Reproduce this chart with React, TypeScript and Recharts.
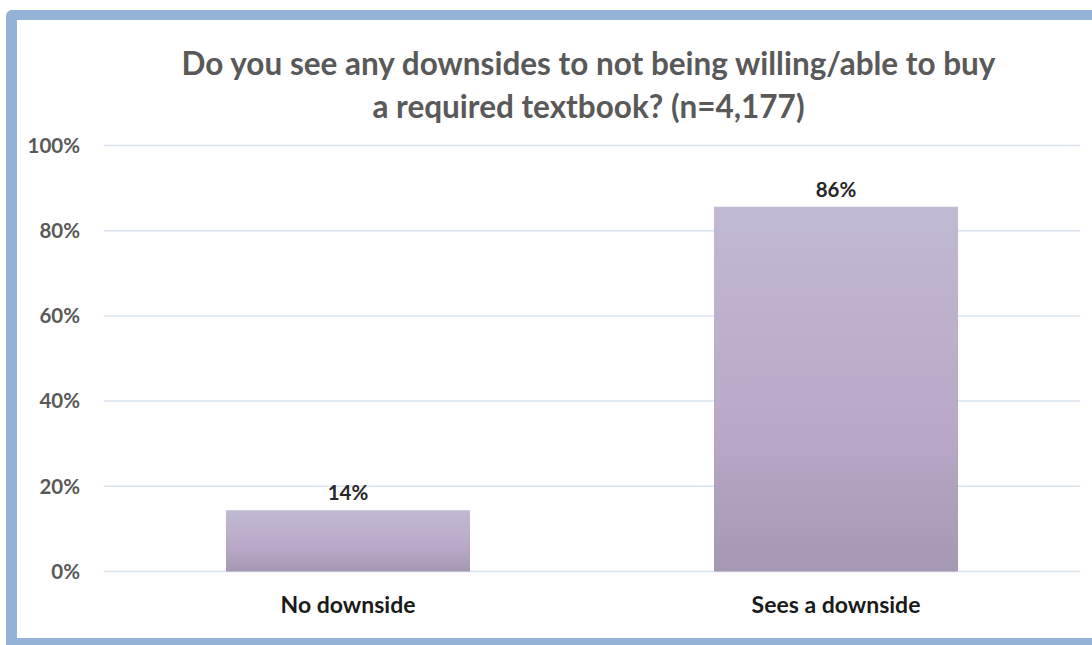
import { BarChart, Bar, XAxis, YAxis, CartesianGrid, LabelList } from "recharts";

const categories = ["No downside", "Sees a downside"];
const shares = [14.4, 85.6];
const shareLabels = ["14%", "86%"];
const yTicks = [0, 20, 40, 60, 80, 100];

const TITLE_LINES = [
  "Do you see any downsides to not being willing/able to buy",
  "a required textbook? (n=4,177)",
];

const FONT = "Lato, 'Open Sans', sans-serif";
const FRAME = "#95b3d7";

const data = categories.map((name, i) => ({
  name,
  value: shares[i],
  label: shareLabels[i],
}));

export default function App() {
  return (
    <div
      style={{
        position: "absolute",
        left: 0,
        top: 0,
        width: 1092,
        height: 645,
        overflow: "hidden",
        background: "#fff",
        fontFamily: FONT,
      }}
    >
      {/* frame: left, top and bottom bars, open on the right */}
      <div
        style={{
          position: "absolute",
          left: 6,
          top: 10,
          width: 11,
          height: 635,
          background: FRAME,
          borderTopLeftRadius: 6,
        }}
      />
      <div style={{ position: "absolute", left: 10, top: 10, width: 1082, height: 10, background: FRAME }} />
      <div style={{ position: "absolute", left: 6, top: 638, width: 1086, height: 7, background: FRAME }} />
      <div
        style={{
          position: "absolute",
          left: 0,
          top: 42,
          width: 1177,
          textAlign: "center",
          color: "#595959",
          fontWeight: 700,
          fontSize: 31.5,
          lineHeight: "43px",
        }}
      >
        {TITLE_LINES.map((t) => (
          <div key={t}>{t}</div>
        ))}
      </div>
      <div style={{ position: "absolute", left: 0, top: 0 }}>
        <BarChart
          width={1092}
          height={645}
          data={data}
          margin={{ top: 145.5, right: 12, bottom: 0, left: 0 }}
          barCategoryGap="25%"
        >
          <defs>
            <linearGradient id="barFill" x1="0" y1="0" x2="0" y2="1">
              <stop offset="0%" stopColor="#c1b9d3" />
              <stop offset="60%" stopColor="#baa8c8" />
              <stop offset="100%" stopColor="#a598b4" />
            </linearGradient>
          </defs>
          <CartesianGrid vertical={false} stroke="#d9e4f1" strokeWidth={1.5} />
          <YAxis
            width={104}
            domain={[0, 100]}
            ticks={yTicks}
            tickFormatter={(v: number) => `${v}%`}
            axisLine={false}
            tickLine={false}
            tickMargin={18}
            tick={{ fill: "#595959", fontSize: 20.5, fontWeight: 700, fontFamily: FONT }}
          />
          <XAxis
            dataKey="name"
            height={73.5}
            axisLine={false}
            tickLine={false}
            tickMargin={19}
            tick={{ fill: "#1a1a1a", fontSize: 23, fontWeight: 700, fontFamily: FONT }}
          />
          <Bar dataKey="value" fill="url(#barFill)" isAnimationActive={false}>
            <LabelList
              dataKey="label"
              position="top"
              offset={10}
              fill="#262626"
              fontSize={20.5}
              fontWeight={700}
              fontFamily={FONT}
            />
          </Bar>
        </BarChart>
      </div>
    </div>
  );
}
